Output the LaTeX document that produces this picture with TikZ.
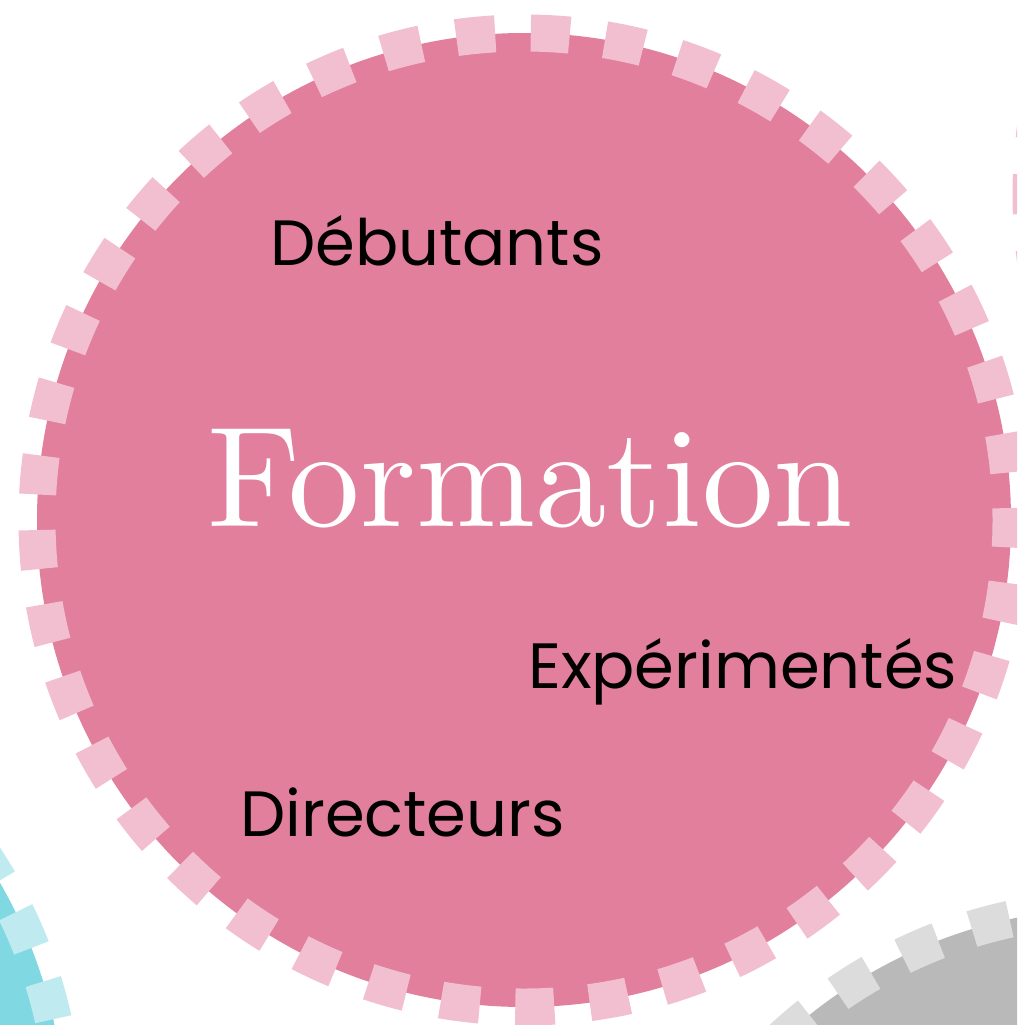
\documentclass[tikz,border=0pt]{standalone}
\usepackage{fontspec}
\newfontfamily\handfont{Poppins}
\newfontfamily\titlefont{lmroman10-regular.otf}
\usetikzlibrary{positioning}
\definecolor{rosefond}{RGB}{225,127,157}
\definecolor{rosetiret}{RGB}{242,191,208}
\definecolor{turquoisefond}{RGB}{127,216,226}
\definecolor{turquoisetiret}{RGB}{191,235,240}
\definecolor{grisfond}{RGB}{185,185,185}
\definecolor{gristiret}{RGB}{220,220,220}

\begin{document}
\begin{tikzpicture}[x=1pt, y=-1pt,
    ring/.style={line width=37pt, dash pattern=on 39pt off 35.63pt},
    hand/.style={font=\handfont\fontsize{64}{64}\selectfont, text=black, anchor=base west, inner sep=0pt}]
    \useasboundingbox (0,0) rectangle (1017,1025);
    \clip (0,0) rectangle (1017,1025);

    % Cercles voisins, coupés par le bord
    \fill[turquoisefond] (-422,1126) circle (487);
    \draw[ring, turquoisetiret, dash phase=71.5pt] (-422,1126) circle (487);
    \fill[grisfond] (1114,1395) circle (487);
    \draw[ring, gristiret, dash phase=13.2pt] (1114,1395) circle (487);
    \fill[rosefond] (1518,194) circle (487);
    \draw[ring, rosetiret, dash phase=56.7pt] (1518,194) circle (487);

    % Cercle principal
    \fill[rosefond] (524,520) circle (487);
    \draw[ring, rosetiret, dash phase=11.5pt] (524,520) circle (487);

    % Textes
    \node[font=\titlefont\fontsize{143}{143}\selectfont, text=white, anchor=base west, inner sep=0pt] (formation) at (207,526) {Formation};
    \node[hand] (debutants) at (270,265) {Débutants};
    \node[hand] (experimentes) at (528,688) {Expérimentés};
    \node[hand] (directeurs) at (240,836) {Directeurs};
\end{tikzpicture}
\end{document}
